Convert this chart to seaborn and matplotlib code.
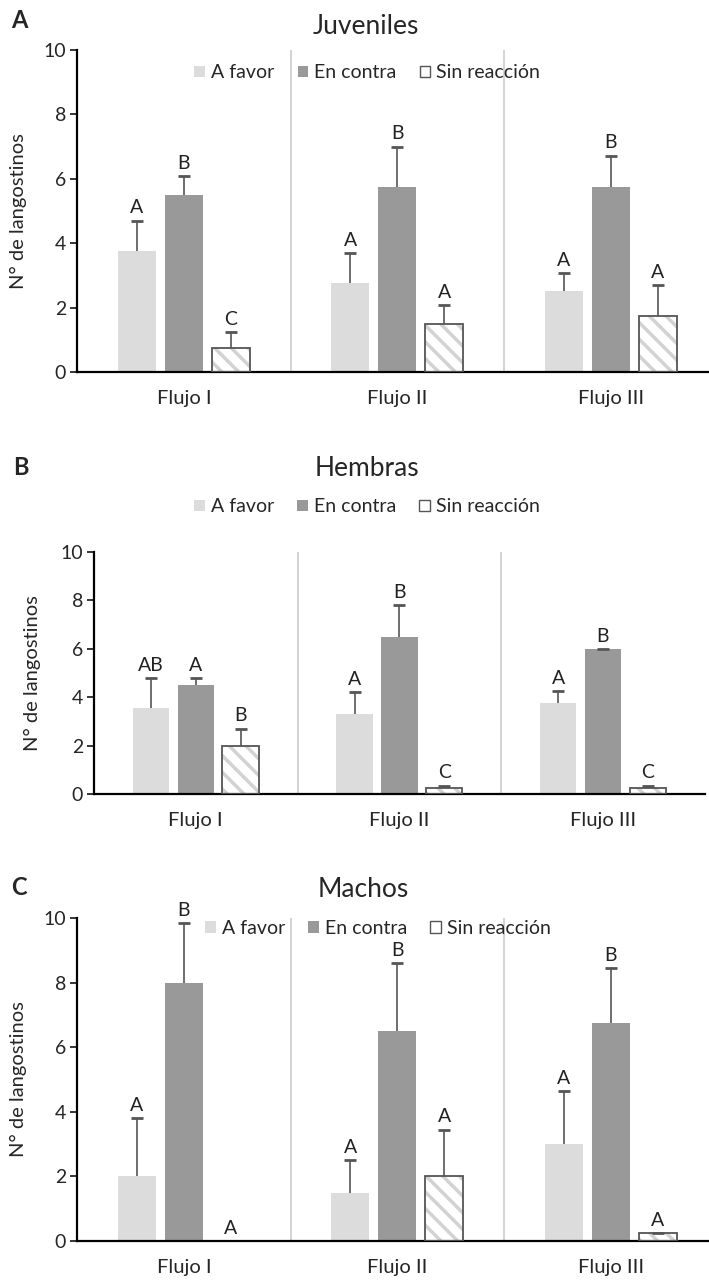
import pandas as pd
import numpy as np
import matplotlib.pyplot as plt
import seaborn as sns
from matplotlib.patches import Patch, Rectangle

# Datos
flujos = ["Flujo I", "Flujo II", "Flujo III"]
reacciones = ["A favor", "En contra", "Sin reacción"]

juv_favor = [3.75, 2.75, 2.5]
juv_contra = [5.5, 5.75, 5.75]
juv_sin = [0.75, 1.5, 1.75]
juv_err_favor = [4.7, 3.7, 3.07]
juv_err_contra = [6.08, 7.0, 6.72]
juv_err_sin = [1.24, 2.07, 2.7]
juv_letras = [["A", "A", "A"], ["B", "B", "B"], ["C", "A", "A"]]

hem_favor = [3.55, 3.3, 3.75]
hem_contra = [4.5, 6.5, 6.0]
hem_sin = [2.0, 0.25, 0.25]
hem_err_favor = [4.8, 4.2, 4.25]
hem_err_contra = [4.8, 7.8, 6.0]
hem_err_sin = [2.7, 0.35, 0.35]
hem_letras = [["AB", "A", "A"], ["A", "B", "B"], ["B", "C", "C"]]

mac_favor = [2.0, 1.5, 3.0]
mac_contra = [8.0, 6.5, 6.75]
mac_sin = [0.0, 2.0, 0.25]
mac_err_favor = [3.8, 2.5, 4.63]
mac_err_contra = [9.85, 8.6, 8.45]
mac_err_sin = [0.0, 3.45, 0.25]
mac_letras = [["A", "A", "A"], ["B", "B", "B"], ["A", "A", "A"]]

colores = {"A favor": "#dcdcdc", "En contra": "#999999", "Sin reacción": "#ffffff"}

sns.set_theme(style="white")
plt.rcParams['font.family'] = ['Lato', 'DejaVu Sans']
plt.rcParams['hatch.linewidth'] = 2.5

fig = plt.figure(figsize=(7.09, 12.8), dpi=100)


def panel(pos, xlim, medias, errores, letras, titulo, letra, titulo_pos, letra_pos,
          ley_pos, ylab_x):
    ax = fig.add_axes(pos)
    df = pd.DataFrame({
        "flujo": flujos * 3,
        "reaccion": [r for r in reacciones for _ in flujos],
        "valor": medias[0] + medias[1] + medias[2],
    })
    sns.barplot(data=df, x="flujo", y="valor", hue="reaccion", order=flujos,
                hue_order=reacciones, palette=colores, width=0.66, gap=0.19,
                errorbar=None, legend=False, ax=ax, saturation=1)

    barras = list(ax.containers)
    for i, cont in enumerate(barras):
        xs = [b.get_x() + b.get_width() / 2 for b in cont]
        hs = [b.get_height() for b in cont]
        for b in cont:
            b.set_linewidth(0)
        if reacciones[i] == "Sin reacción":
            for b in cont:
                b.set_edgecolor("#d2d2d2")
                b.set_hatch("\\\\")
                if b.get_height() > 0:
                    ax.add_patch(Rectangle((b.get_x(), 0), b.get_width(), b.get_height(),
                                           fill=False, edgecolor="#555555", lw=1.3, zorder=3))
        sup = np.array(errores[i]) - np.array(hs)
        eb = ax.errorbar(xs, hs, yerr=[np.zeros(3), sup], fmt="none", ecolor="#555555",
                         elinewidth=1.2, capsize=4, capthick=2, zorder=2)
        eb[1][0].set_visible(False)
        for x, top, t in zip(xs, errores[i], letras[i]):
            ax.annotate(t, (x, top), xytext=(0, 3), textcoords="offset points",
                        ha="center", va="bottom", fontsize=14, annotation_clip=False,
                        color="#222222")

    for xv in [0.5, 1.5]:
        ax.axvline(xv, color="#cccccc", lw=1.2, zorder=0)

    ax.set_xlim(*xlim)
    ax.set_ylim(0, 10)
    ax.set_yticks([0, 2, 4, 6, 8, 10])
    ax.set_xlabel("")
    ax.set_ylabel("N° de langostinos", fontsize=14.5)
    ax.yaxis.set_label_coords(ylab_x, 0.5)
    sns.despine(ax=ax)
    for s in ["left", "bottom"]:
        ax.spines[s].set_color("black")
        ax.spines[s].set_linewidth(1.6)
    ax.tick_params(axis="y", left=True, length=5, width=1.3, labelsize=14, pad=3)
    ax.tick_params(axis="x", bottom=False, labelsize=14.5, pad=7)

    handles = [Patch(facecolor=colores[r], edgecolor="#555555" if r == "Sin reacción" else "none",
                     lw=1) for r in reacciones]
    ax.legend(handles, reacciones, loc="center", bbox_to_anchor=ley_pos, ncol=3, frameon=False,
              fontsize=14, handlelength=0.55, handleheight=0.55, handletextpad=0.3,
              columnspacing=1.2)

    fig.text(*titulo_pos, titulo, ha="center", va="center", fontsize=19)
    fig.text(*letra_pos, letra, ha="left", va="center", fontsize=17, fontweight="bold")
    return ax


panel([0.109, 0.7094, 0.891, 0.2516], (-0.5, 2.46),
      [juv_favor, juv_contra, juv_sin], [juv_err_favor, juv_err_contra, juv_err_sin],
      juv_letras, "Juveniles", "A", (0.516, 0.979), (0.016, 0.984), (0.459, 0.929), -0.079)

panel([0.1326, 0.3797, 0.8614, 0.1891], (-0.5, 2.5),
      [hem_favor, hem_contra, hem_sin], [hem_err_favor, hem_err_contra, hem_err_sin],
      hem_letras, "Hembras", "B", (0.518, 0.634), (0.018, 0.635), (0.447, 1.186), -0.087)

panel([0.109, 0.0305, 0.891, 0.2523], (-0.5, 2.46),
      [mac_favor, mac_contra, mac_sin], [mac_err_favor, mac_err_contra, mac_err_sin],
      mac_letras, "Machos", "C", (0.513, 0.305), (0.016, 0.307), (0.476, 0.969), -0.079)

plt.savefig("out.png", dpi=100)
